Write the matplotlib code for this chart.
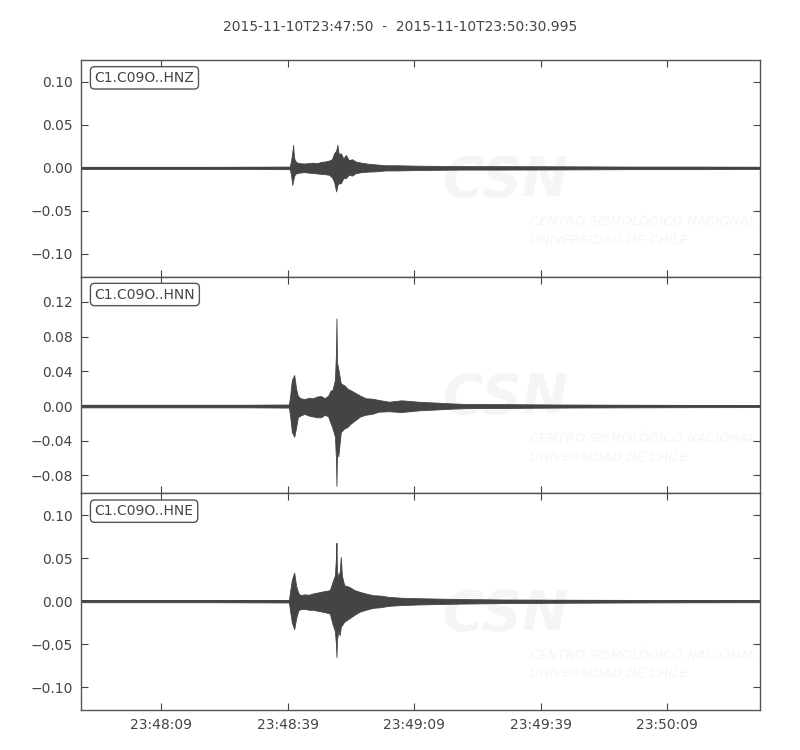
import matplotlib
matplotlib.use("Agg")
import matplotlib.pyplot as plt
from matplotlib.ticker import FixedLocator, FuncFormatter

title = "2015-11-10T23:47:50  -  2015-11-10T23:50:30.995"
channels = ["C1.C09O..HNZ", "C1.C09O..HNN", "C1.C09O..HNE"]
duration = 160.995  # seconds from 23:47:50
xtick_secs = [19, 49, 79, 109, 139]
xtick_labels = ["23:48:09", "23:48:39", "23:49:09", "23:49:39", "23:50:09"]

ylims = [(-0.1267, 0.1256), (-0.1006, 0.1491), (-0.1267, 0.1256)]
yticks = [[-0.10, -0.05, 0.00, 0.05, 0.10],
          [-0.08, -0.04, 0.00, 0.04, 0.08, 0.12],
          [-0.10, -0.05, 0.00, 0.05, 0.10]]

# Envelope (upper / lower) of each trace
hnz_t = [0, 30, 49.5, 49.8, 50.1, 50.3, 50.5, 50.8, 51.3, 52, 53, 54.9, 56, 57, 58, 58.8,
         59.5, 60.0, 60.5, 60.8, 61.1, 61.6, 62.2, 62.8, 63.5, 64.3, 65.1, 66.5, 68.3, 70,
         72.2, 75, 80, 90, 100, 115, 130, 145, 161]
hnz_up = [0.0012, 0.0012, 0.0015, 0.008, 0.018, 0.0267, 0.012, 0.008, 0.006, 0.0054, 0.005,
          0.006, 0.0055, 0.007, 0.0075, 0.0085, 0.010, 0.017, 0.020, 0.0267, 0.016, 0.017,
          0.011, 0.015, 0.009, 0.010, 0.0074, 0.006, 0.0047, 0.004, 0.003, 0.003, 0.0025,
          0.002, 0.002, 0.0018, 0.0015, 0.0015, 0.0013]
hnz_lo = [-0.0012, -0.0012, -0.0015, -0.008, -0.0198, -0.015, -0.010, -0.007, -0.006, -0.0054,
          -0.005, -0.006, -0.0065, -0.007, -0.0075, -0.008, -0.011, -0.016, -0.0275, -0.020,
          -0.018, -0.018, -0.012, -0.012, -0.008, -0.009, -0.0062, -0.005, -0.0043, -0.004,
          -0.003, -0.003, -0.0025, -0.002, -0.002, -0.0018, -0.0015, -0.0015, -0.0013]

hnn_t = [0, 20, 40, 49.3, 49.6, 50.0, 50.55, 51.0, 51.4, 52, 53, 54, 55, 56.0, 56.9, 57.8,
         58.6, 59.2, 59.6, 60.2, 60.45, 60.57, 60.7, 61.0, 61.6, 62.4, 63.2, 64.0, 65.1, 66.2,
         67.5, 69, 70.6, 73, 76, 80, 88, 92, 100, 115.5, 130, 145, 161]
hnn_up = [0.0015, 0.0015, 0.0015, 0.0018, 0.012, 0.030, 0.0358, 0.020, 0.012, 0.009, 0.008,
          0.0095, 0.009, 0.011, 0.0115, 0.009, 0.012, 0.018, 0.018, 0.030, 0.060, 0.101, 0.050,
          0.043, 0.026, 0.024, 0.020, 0.018, 0.015, 0.012, 0.009, 0.0085, 0.007, 0.005, 0.0066,
          0.005, 0.003, 0.0023, 0.0022, 0.0017, 0.0015, 0.0013, 0.0012]
hnn_lo = [-0.0015, -0.0015, -0.0015, -0.0018, -0.012, -0.030, -0.0354, -0.025, -0.013, -0.011,
          -0.009, -0.011, -0.012, -0.013, -0.013, -0.010, -0.012, -0.020, -0.025, -0.035,
          -0.060, -0.092, -0.050, -0.058, -0.030, -0.026, -0.024, -0.020, -0.016, -0.012,
          -0.010, -0.009, -0.0065, -0.006, -0.0069, -0.005, -0.003, -0.0023, -0.0022, -0.0017,
          -0.0015, -0.0013, -0.0012]

hne_t = [0, 30, 49.3, 49.6, 50.0, 50.55, 51.0, 51.5, 52, 53, 54, 55, 56, 57, 58, 59, 59.6,
         60.2, 60.45, 60.57, 60.7, 61.0, 61.35, 61.6, 61.85, 62.4, 63.6, 64.8, 66, 67.5, 69.2,
         71, 73, 76, 80, 90, 100, 115, 130, 145, 161]
hne_up = [0.0012, 0.0012, 0.0015, 0.012, 0.025, 0.0333, 0.018, 0.010, 0.007, 0.008, 0.0075,
          0.009, 0.010, 0.011, 0.012, 0.0128, 0.022, 0.030, 0.050, 0.068, 0.035, 0.028, 0.035,
          0.0515, 0.030, 0.0186, 0.0167, 0.013, 0.011, 0.009, 0.007, 0.0065, 0.005, 0.004,
          0.0035, 0.0025, 0.002, 0.0017, 0.0015, 0.0013, 0.0012]
hne_lo = [-0.0012, -0.0012, -0.0015, -0.012, -0.025, -0.0326, -0.020, -0.011, -0.0093, -0.009,
          -0.010, -0.010, -0.011, -0.012, -0.013, -0.0143, -0.026, -0.035, -0.050, -0.065,
          -0.045, -0.035, -0.0395, -0.030, -0.028, -0.024, -0.020, -0.016, -0.0124, -0.010,
          -0.0078, -0.007, -0.0054, -0.0045, -0.0038, -0.0028, -0.0022, -0.0018, -0.0015,
          -0.0013, -0.0012]

traces = [(hnz_t, hnz_up, hnz_lo), (hnn_t, hnn_up, hnn_lo), (hne_t, hne_up, hne_lo)]

TRACE = "#444444"
TXT = "#444444"
WM = "#f5f5f5"

plt.rcParams["font.family"] = ["DejaVu Sans"]
fig = plt.figure(figsize=(8, 7.5), dpi=100)
fig.subplots_adjust(left=0.10125, right=0.95, top=0.92, bottom=0.05333, hspace=0)
axes = fig.subplots(3, 1, sharex=True)

fmt = FuncFormatter(lambda v, p: ("%.2f" % v).replace("-", "\u2212"))

for i, ax in enumerate(axes):
    t, up, lo = traces[i]
    # faint watermark
    ax.text(0.626, 0.44, "CSN", transform=ax.transAxes, fontsize=40, fontweight="bold",
            style="italic", color=WM, ha="center", va="center", zorder=0, clip_on=True)
    ax.text(0.662, 0.21, "CENTRO SISMOLÓGICO NACIONAL\nUNIVERSIDAD DE CHILE",
            transform=ax.transAxes, fontsize=9.5, style="italic", color=WM,
            ha="left", va="center", linespacing=1.55, zorder=0, clip_on=True)
    ax.fill_between(t, lo, up, color=TRACE, linewidth=0.6, edgecolor=TRACE, zorder=2)
    ax.plot([t[0], t[-1]], [0, 0], color=TRACE, linewidth=1.2, zorder=2)
    ax.set_xlim(0, duration)
    ax.set_ylim(*ylims[i])
    ax.yaxis.set_major_locator(FixedLocator(yticks[i]))
    ax.yaxis.set_major_formatter(fmt)
    ax.xaxis.set_major_locator(FixedLocator(xtick_secs))
    ax.tick_params(direction="in", length=5, width=0.8, top=True, right=True,
                   colors=TXT, labelsize=10, labelcolor=TXT, pad=6)
    for s in ax.spines.values():
        s.set_color("#555555")
        s.set_linewidth(1.0)
    ax.text(0.02, 0.95, channels[i], transform=ax.transAxes, va="top", ha="left",
            fontsize=10, color=TXT, zorder=5,
            bbox=dict(boxstyle="round,pad=0.3", fc="white", ec="#555555", lw=1.0))
    if i < 2:
        ax.tick_params(labelbottom=False)

axes[-1].set_xticklabels(xtick_labels)
fig.suptitle(title, y=0.973, fontsize=10, color=TXT)
fig.savefig("out.png", dpi=100)
